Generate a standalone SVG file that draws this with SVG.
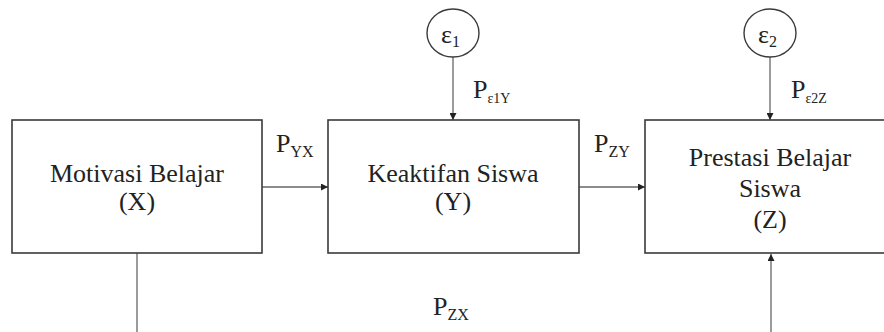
<svg xmlns="http://www.w3.org/2000/svg" width="884" height="332" viewBox="0 0 884 332">
<defs>
<marker id="ah" viewBox="0 0 10 10" refX="10" refY="5" markerWidth="7" markerHeight="7" markerUnits="userSpaceOnUse" orient="auto">
<path d="M0,0 L10,5 L0,10 z" fill="#222"/>
</marker>
<style>
.box{fill:#fff;stroke:#3a3a3a;stroke-width:1.6}
.circ{fill:#fff;stroke:#3a3a3a;stroke-width:1.4}
text{font-family:'Liberation Serif',serif;font-size:26px;fill:#222}
.t{text-anchor:middle}
.sub{font-size:16px}
.sub2{font-size:14px}
.c{stroke:#666;stroke-width:1.3;fill:none}
</style>
</defs>
<rect width="884" height="332" fill="#fff"/>
<g id="connectors">
<line class="c" x1="262" y1="187" x2="328" y2="187" marker-end="url(#ah)"/>
<line class="c" x1="579" y1="187" x2="645" y2="187" marker-end="url(#ah)"/>
<line class="c" x1="453" y1="57" x2="453" y2="120" marker-end="url(#ah)"/>
<line class="c" x1="770" y1="57" x2="770" y2="120" marker-end="url(#ah)"/>
<line class="c" x1="137" y1="253" x2="137" y2="332"/>
<line class="c" x1="771" y1="332" x2="771" y2="254" marker-end="url(#ah)"/>
<text x="276" y="152">P<tspan class="sub" dy="5">YX</tspan></text>
<text x="594" y="152">P<tspan class="sub" dy="5">ZY</tspan></text>
<text x="473" y="98">P<tspan class="sub2" dy="5">ε1Y</tspan></text>
<text x="791" y="98">P<tspan class="sub2" dy="5">ε2Z</tspan></text>
<text x="433" y="315">P<tspan class="sub" dy="5">ZX</tspan></text>
</g>
<g id="x">
<rect class="box" x="12" y="120" width="250" height="133"/>
<text class="t" x="137" y="182">Motivasi Belajar</text>
<text class="t" x="137" y="210">(X)</text>
</g>
<g id="y">
<rect class="box" x="328" y="120" width="251" height="133"/>
<text class="t" x="453" y="182">Keaktifan Siswa</text>
<text class="t" x="453" y="210">(Y)</text>
</g>
<g id="z">
<rect class="box" x="645" y="120" width="252" height="133"/>
<text class="t" x="770" y="166">Prestasi Belajar</text>
<text class="t" x="770" y="197">Siswa</text>
<text class="t" x="770" y="228">(Z)</text>
</g>
<g id="e1">
<ellipse class="circ" cx="453" cy="33" rx="26" ry="24"/>
<text x="441" y="43">ε<tspan class="sub" dy="4">1</tspan></text>
</g>
<g id="e2">
<ellipse class="circ" cx="770" cy="33" rx="26" ry="24"/>
<text x="758" y="43">ε<tspan class="sub" dy="4">2</tspan></text>
</g>
</svg>
